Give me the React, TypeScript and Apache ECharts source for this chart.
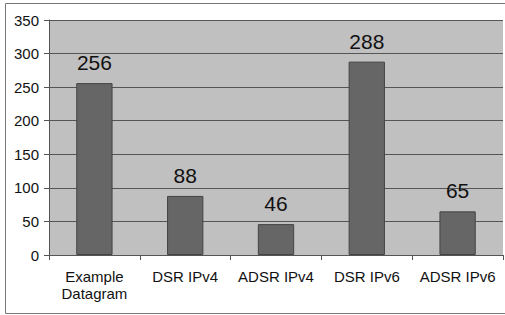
import React, { useEffect, useRef } from "react";
import * as echarts from "echarts";

const categories = ["Example\nDatagram", "DSR IPv4", "ADSR IPv4", "DSR IPv6", "ADSR IPv6"];
const values = [256, 88, 46, 288, 65];

export default function App() {
  const ref = useRef<HTMLDivElement>(null);
  useEffect(() => {
    const chart = echarts.init(ref.current!, null, { renderer: "svg" });
    chart.setOption({
      animation: false,
      textStyle: { fontFamily: "Liberation Sans, Arial, sans-serif" },
      graphic: [
        {
          type: "rect",
          shape: { x: 5.5, y: 3.5, width: 510, height: 310 },
          style: { fill: "none", stroke: "#777", lineWidth: 1 },
          z: -10,
        },
      ],
      grid: { left: 49, right: 2, top: 20, bottom: 60, show: true, backgroundColor: "#c0c0c0", borderWidth: 0 },
      xAxis: {
        type: "category",
        data: categories,
        axisLine: { show: true, lineStyle: { color: "#555", width: 1 } },
        axisTick: { show: true, length: 5, lineStyle: { color: "#555" } },
        axisLabel: { interval: 0, color: "#111", fontSize: 15, margin: 13, lineHeight: 17, fontFamily: "Liberation Sans, Arial, sans-serif" },
      },
      yAxis: {
        type: "value",
        min: 0,
        max: 350,
        interval: 50,
        axisLine: { show: true, lineStyle: { color: "#555", width: 1 } },
        axisTick: { show: true, length: 5, lineStyle: { color: "#555" } },
        axisLabel: { color: "#111", fontSize: 15, margin: 10, fontFamily: "Liberation Sans, Arial, sans-serif" },
        splitLine: { show: true, lineStyle: { color: "#555", width: 1 } },
      },
      series: [
        {
          type: "bar",
          data: values,
          barWidth: "40%",
          itemStyle: { color: "#666", borderColor: "#444", borderWidth: 1 },
          label: {
            show: true,
            position: "top",
            distance: 10,
            color: "#111",
            fontSize: 21,
            fontFamily: "Liberation Sans, Arial, sans-serif",
          },
        },
      ],
    });
    return () => chart.dispose();
  }, []);
  return <div ref={ref} style={{ width: 505, height: 315, position: "absolute", left: 0, top: 0 }} />;
}
